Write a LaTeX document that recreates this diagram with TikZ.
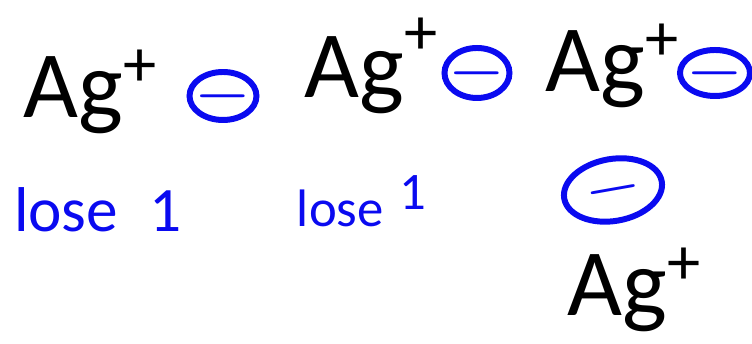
\documentclass[tikz,border=0pt]{standalone}
\usepackage{fontspec}
\setmainfont{Carlito}
\usetikzlibrary{shapes.geometric}
\definecolor{InkBlue}{HTML}{0A0AF0}
\definecolor{InkBlack}{HTML}{000000}

\begin{document}
\begin{tikzpicture}[
  every node/.style={inner sep=0pt,outer sep=0pt},
  ion/.style={anchor=base west,text=InkBlack,font=\fontsize{27}{27}\selectfont},
  electron/.style={ellipse,draw=InkBlue,line width=1.7pt,text=InkBlue,inner sep=-3pt,minimum width=0.67cm,minimum height=0.48cm,font=\fontsize{20}{20}\selectfont},
  note/.style={anchor=base west,text=InkBlue,font=\fontsize{18}{18}\selectfont}
]
\useasboundingbox (0,0) rectangle (7.52,3.44);
\node[ion] (silverA) at (0.24,2.26) {Ag\textsuperscript{+}};
\node[electron] (elecA) at (2.23,2.48) {$-$};
\node[ion] (silverB) at (3.05,2.46) {Ag\raisebox{0.12em}{\textsuperscript{+}}};
\node[electron,minimum width=0.65cm,minimum height=0.5cm] (elecB) at (4.77,2.71) {$-$};
\node[ion] (silverC) at (5.46,2.52) {Ag\textsuperscript{+}};
\node[electron,minimum width=0.70cm,minimum height=0.46cm] (elecC) at (7.15,2.71) {$-$};
\node[electron,minimum width=0.99cm,minimum height=0.62cm,rotate=10] (elecD) at (6.13,1.54) {$-$};
\node[ion] (silverD) at (5.68,0.28) {Ag\textsuperscript{+}};
\node[note] (loseA) at (0.14,1.12) {lose\hspace{0.5em}1};
\node[note,font=\fontsize{15}{15}\selectfont] (loseB) at (2.97,1.17) {lose\hspace{0.3em}\raisebox{0.7ex}{1}};
\end{tikzpicture}
\end{document}
